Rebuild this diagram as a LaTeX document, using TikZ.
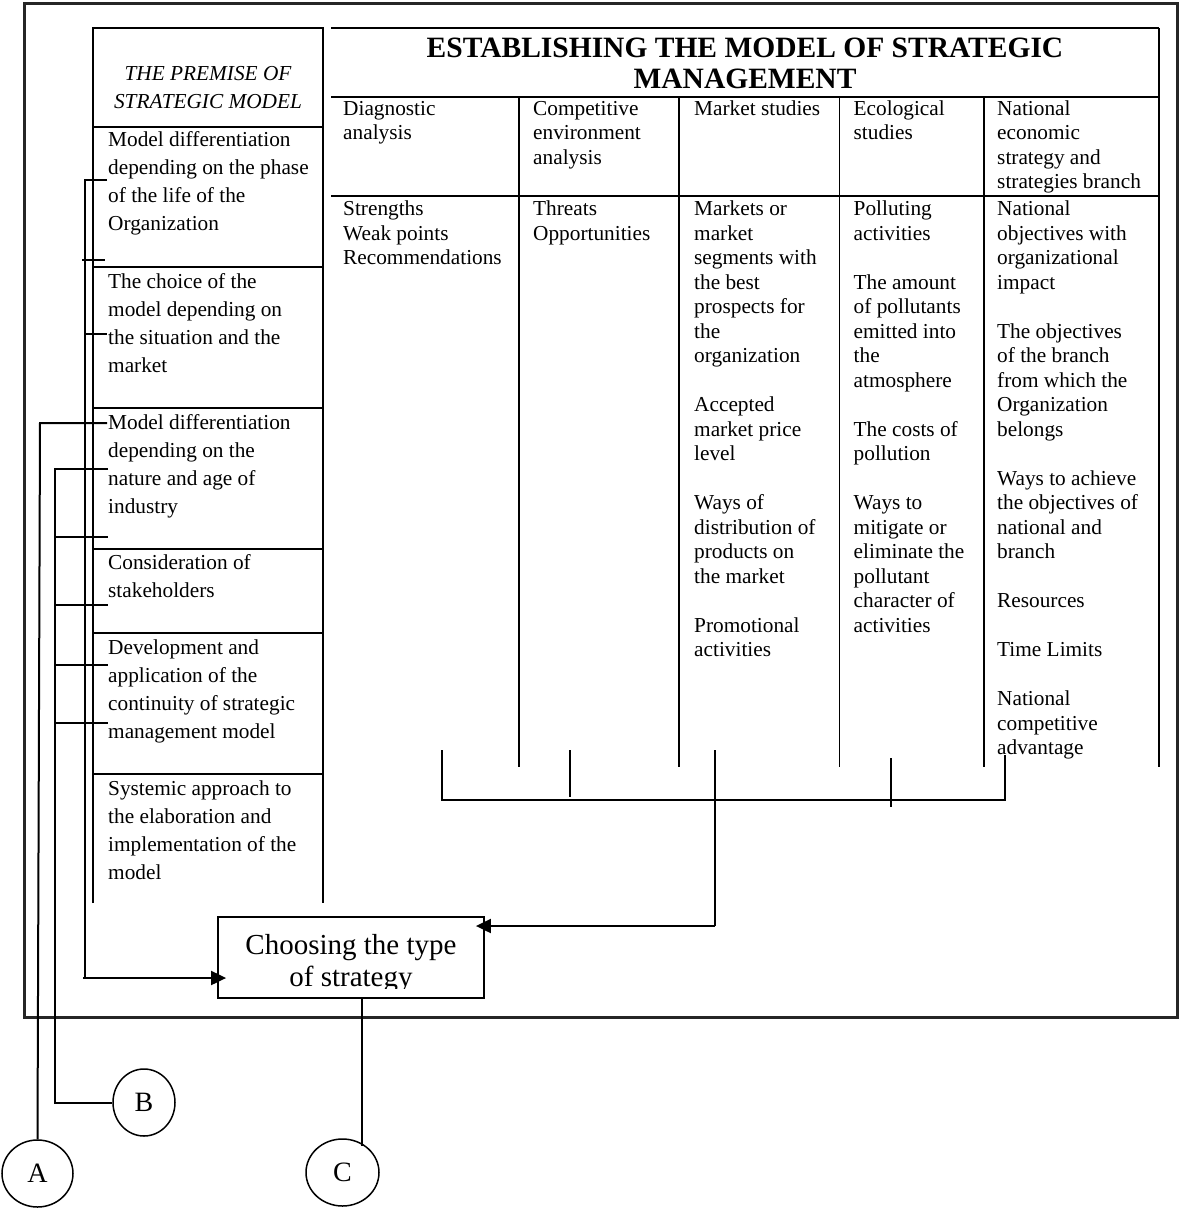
\documentclass[tikz,border=0pt]{standalone}
\usepackage{fontspec}
\setmainfont{Liberation Serif}
\usetikzlibrary{arrows.meta,shapes.geometric}
\newcommand\tabf{\fontsize{21.3pt}{24.5pt}\selectfont}
\newcommand\colf{\fontsize{21.3pt}{28pt}\selectfont}
\newcommand\bigf{\fontsize{29.5pt}{31pt}\selectfont}
\newcommand\boxf{\fontsize{29pt}{32pt}\selectfont}
\begin{document}
\begin{tikzpicture}[x=1pt,y=-1pt,
  tline/.style={line width=1.1pt},
  brline/.style={line width=2pt},
  frameline/.style={line width=2.4pt, draw=black!85},
  tx/.style={anchor=base west, inner sep=0pt, font=\tabf},
  lc/.style={anchor=base west, inner sep=0pt, font=\colf},
  circ/.style={ellipse, draw, line width=1.5pt, inner sep=0pt, font=\fontsize{28pt}{30pt}\selectfont},
  tip/.style={-{Triangle[length=15pt,width=14pt]}, shorten >=-9pt}
]
\useasboundingbox (0,0) rectangle (1181,1209);
% outer frame
\draw[frameline] (24.5,3.5) rectangle (1177.5,1017.5);

% left column
\draw[tline] (93,903) -- (93,28) -- (323,28) -- (323,903);
\foreach \yy in {127,267,408,549,633,774} \draw[tline] (93,\yy) -- (323,\yy);
\node[anchor=base, inner sep=0pt, font=\colf\itshape] (prem) at (208,81)
  {\parbox[t]{230pt}{\centering THE PREMISE OF\\STRATEGIC MODEL}};
\node[lc] (r1) at (108,147) {\parbox[t]{215pt}{Model differentiation\\depending on the phase\\of the life of the\\Organization}};
\node[lc] (r2) at (108,288.5) {\parbox[t]{215pt}{The choice of the\\model depending on\\the situation and the\\market}};
\node[lc] (r3) at (108,429.5) {\parbox[t]{215pt}{Model differentiation\\depending on the\\nature and age of\\industry}};
\node[lc] (r4) at (108,569.5) {\parbox[t]{215pt}{Consideration of\\stakeholders}};
\node[lc] (r5) at (108,654) {\parbox[t]{215pt}{Development and\\application of the\\continuity of strategic\\management model}};
\node[lc] (r6) at (108,795) {\parbox[t]{215pt}{Systemic approach to\\the elaboration and\\implementation of the\\model}};

% right table
\draw[tline] (331,28) -- (1159,28);
\draw[tline] (331,97) -- (1159,97);
\draw[tline] (331,196) -- (1159,196);
\draw[tline] (1159,28) -- (1159,767);
\foreach \xx in {519,679,839.5,984} \draw[tline] (\xx,97) -- (\xx,767);
\node[anchor=base, inner sep=0pt, font=\bigf\bfseries] (title) at (745,57.5)
  {\parbox[t]{828pt}{\centering ESTABLISHING THE MODEL OF STRATEGIC\\MANAGEMENT}};

\node[tx] (h1) at (343,115.5) {\parbox[t]{170pt}{Diagnostic\\analysis}};
\node[tx] (h2) at (533,115.5) {\parbox[t]{150pt}{Competitive\\environment\\analysis}};
\node[tx] (h3) at (694,115.5) {\parbox[t]{150pt}{Market studies}};
\node[tx] (h4) at (853.5,115.5) {\parbox[t]{150pt}{Ecological\\studies}};
\node[tx] (h5) at (997,115.5) {\parbox[t]{170pt}{National\\economic\\strategy and\\strategies branch}};

\node[tx] (b1) at (343,215.5) {\parbox[t]{170pt}{Strengths\\Weak points\\Recommendations}};
\node[tx] (b2) at (533,215.5) {\parbox[t]{150pt}{Threats\\Opportunities}};
\node[tx] (b3) at (694,215.5) {\parbox[t]{150pt}{Markets or\\market\\segments with\\the best\\prospects for\\the\\organization\\[24.5pt]Accepted\\market price\\level\\[24.5pt]Ways of\\distribution of\\products on\\the market\\[24.5pt]Promotional\\activities}};
\node[tx] (b4) at (853.5,215.5) {\parbox[t]{150pt}{Polluting\\activities\\[24.5pt]The amount\\of pollutants\\emitted into\\the\\atmosphere\\[24.5pt]The costs of\\pollution\\[24.5pt]Ways to\\mitigate or\\eliminate the\\pollutant\\character of\\activities}};
\node[tx] (b5) at (997,215.5) {\parbox[t]{170pt}{National\\objectives with\\organizational\\impact\\[24.5pt]The objectives\\of the branch\\from which the\\Organization\\belongs\\[24.5pt]Ways to achieve\\the objectives of\\national and\\branch\\[24.5pt]Resources\\[24.5pt]Time Limits\\[24.5pt]National\\competitive\\advantage}};

% choosing box
\node[draw, line width=1.8pt, minimum width=266pt, minimum height=81pt, inner sep=0pt] (box) at (351,957.5) {};
\begin{scope}
\clip (218,917) rectangle (484,988.5);
\node[anchor=base, inner sep=0pt, font=\boxf] (boxtxt) at (351,954)
  {\parbox[t]{266pt}{\centering Choosing the type\\of strategy}};
\end{scope}

% circles
\node[circ, minimum width=71pt, minimum height=67pt] (A) at (37.5,1173.5) {A};
\node[circ, minimum width=62pt, minimum height=67pt] (B) at (144,1102.5) {B};
\node[circ, minimum width=73pt, minimum height=67pt] (C) at (342.5,1172.5) {C};

% left brackets
\draw[brline] (107,180) -- (85,180) -- (85,978);
\draw[brline,tip] (83,978) -- (box.west |- 0,978);
\draw[brline] (82,260) -- (105,260);
\draw[brline] (85,334) -- (107,334);
\draw[brline] (107,423) -- (40,423) -- (A.north);
\draw[brline] (108,469) -- (55,469) -- (55,1102.5) -- (B.west);
\foreach \yy in {537,605,665,723} \draw[brline] (55,\yy) -- (108,\yy);

% bottom bracket
\draw[brline] (442,750) -- (442,800) -- (1005,800) -- (1005,755);
\draw[brline] (570,750) -- (570,797);
\draw[brline] (891,758) -- (891,807);
\draw[brline] (715,750) -- (715,926);
\draw[brline,tip] (715,926) -- (box.east |- 0,926);

% box to C
\coordinate (cTop) at (362,1146);
\draw[brline] (box.south -| cTop) -- (cTop);
\end{tikzpicture}
\end{document}
